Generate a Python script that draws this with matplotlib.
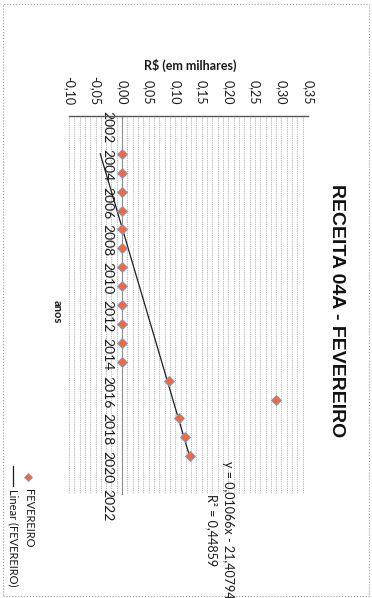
import numpy as np
import matplotlib
matplotlib.use('Agg')
import matplotlib.pyplot as plt
from matplotlib.lines import Line2D
from matplotlib.patches import Rectangle

# dados (R$ em milhares por ano)
anos = [2004, 2005, 2006, 2007, 2008, 2009, 2010, 2011, 2012,
        2013, 2014, 2015, 2016, 2017, 2018, 2019, 2020]
receita = [0.0, 0.0, 0.0, 0.0, 0.0, 0.0, 0.0, 0.0, 0.0,
           0.0, 0.0, 0.0, 0.088, 0.289, 0.107, 0.118, 0.128]
valor_ticks = [-0.10, -0.05, 0.00, 0.05, 0.10, 0.15, 0.20, 0.25, 0.30, 0.35]
ano_ticks = [2002, 2004, 2006, 2008, 2010, 2012, 2014, 2016, 2018, 2020, 2022]
equacao = 'y = 0,01066x - 21,40794\nR² = 0,44859'

plt.rcParams['font.family'] = ['Lato', 'DejaVu Sans']

W, H = 372, 598
fig = plt.figure(figsize=(W / 100, H / 100), dpi=100)

# grafico girado 90 graus: valores na horizontal, anos na vertical
ax = fig.add_axes([69 / W, 1 - 494 / H, (308 - 69) / W, (494 - 116) / H])
ax.set_xlim(-0.10, 0.35)
ax.set_ylim(2022, 2002)

ax.xaxis.tick_top()
ax.set_xticks(valor_ticks)
ax.set_xticklabels([('%.2f' % v).replace('.', ',') for v in valor_ticks],
                   fontsize=9)
ax.set_xticks(np.arange(-0.10, 0.3501, 0.01), minor=True)
ax.tick_params(axis='x', which='both', length=0, pad=8, colors='#1a1a1a',
               labelrotation=-90)

ax.set_yticks(ano_ticks)
ax.set_yticklabels([str(a) for a in ano_ticks], fontsize=9)
ax.tick_params(axis='y', length=0, pad=6, colors='#1a1a1a', labelrotation=-90)
for lab in ax.get_yticklabels():
    lab.set_verticalalignment('center')

ax.grid(axis='x', which='both', color='#9a9a9a', linestyle=(0, (1, 1.2)), lw=0.6)
ax.set_axisbelow(True)

ax.spines['right'].set_visible(False)
ax.spines['bottom'].set_visible(False)
ax.spines['top'].set_color('#555555')
ax.spines['top'].set_linewidth(1.0)
ax.spines['left'].set_position(('data', 0))
ax.spines['left'].set_color('#8a8a8a')
ax.spines['left'].set_linewidth(0.8)

# pontos
ax.plot(receita, anos, 'D', ms=5, mfc='#f26a36', mec='#7f9bd6', mew=0.7,
        ls='none', zorder=3)

# linha de tendencia
coef = np.polyfit(anos, receita, 1)
ext = [anos[0], anos[-1]]
ax.plot(np.polyval(coef, ext), ext, color='#1e1e1e', lw=0.9, zorder=2)

# textos
fig.text(336 / W, 1 - 311 / H, 'RECEITA 04A - FEVEREIRO', rotation=-90,
         fontsize=14, fontweight='bold', family=['Liberation Sans', 'DejaVu Sans'],
         ha='center', va='center', color='#111')
fig.text(190 / W, 1 - 65 / H, 'R$ (em milhares)', fontsize=9,
         fontweight='bold', ha='center', va='center', color='#1a1a1a')
fig.text(57 / W, 1 - 312 / H, 'anos', rotation=-90, fontsize=8,
         fontweight='bold', ha='center', va='center', color='#1a1a1a')
fig.text(220 / W, 1 - 530 / H, equacao, rotation=-90, fontsize=9,
         ha='center', va='center', multialignment='center', linespacing=1.4,
         color='#1a1a1a')

# legenda
fig.add_artist(Line2D([28 / W], [1 - 477 / H], marker='D', ms=4, mfc='#f26a36',
                      mec='#7f9bd6', mew=0.6, transform=fig.transFigure))
fig.text(28 / W, 1 - 489 / H, 'FEVEREIRO', rotation=-90, fontsize=8,
         ha='center', va='top', color='#1a1a1a')
fig.add_artist(Line2D([13 / W, 13 / W], [1 - 466 / H, 1 - 486 / H],
                      color='#1e1e1e', lw=0.9, transform=fig.transFigure))
fig.text(13 / W, 1 - 489 / H, 'Linear (FEVEREIRO)', rotation=-90, fontsize=8,
         ha='center', va='top', color='#1a1a1a')

# borda da area do grafico
fig.add_artist(Rectangle((0.008, 0.004), 0.983, 0.99, transform=fig.transFigure,
                         fill=False, ls=':', ec='#9a9a9a', lw=0.8))

fig.savefig('out.png', dpi=100)
